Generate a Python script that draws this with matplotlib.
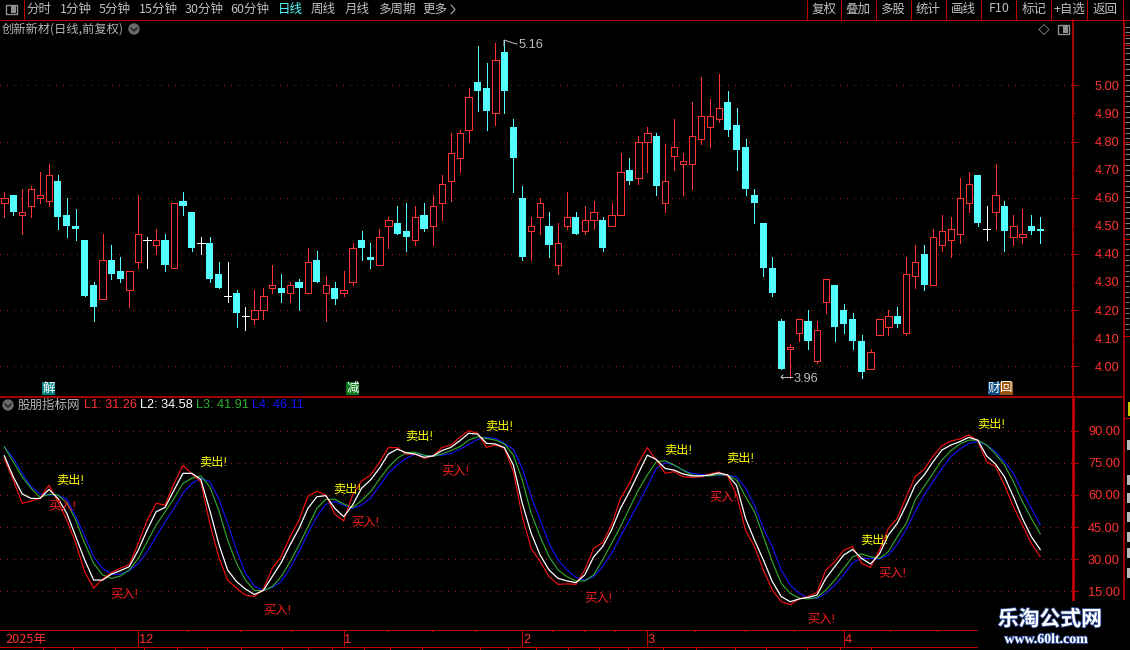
import numpy as np
import matplotlib
matplotlib.use('Agg')
import matplotlib.pyplot as plt
from matplotlib.patches import Rectangle, Circle
import matplotlib.patheffects as pe

plt.rcParams['font.family'] = ['Noto Sans CJK SC', 'DejaVu Sans']

# daily candles
highs = [4.62, 4.61, 4.63, 4.64, 4.69, 4.72, 4.68, 4.60, 4.56, 4.45,
         4.30, 4.47, 4.43, 4.39, 4.34, 4.61, 4.46, 4.49, 4.47, 4.58,
         4.62, 4.55, 4.46, 4.46, 4.37, 4.37, 4.27, 4.21, 4.27, 4.28,
         4.36, 4.33, 4.30, 4.31, 4.42, 4.41, 4.32, 4.30, 4.34, 4.44,
         4.48, 4.44, 4.49, 4.53, 4.57, 4.58, 4.57, 4.58, 4.61, 4.68,
         4.83, 4.84, 4.99, 5.14, 5.08, 5.15, 5.16, 4.88, 4.64, 4.53,
         4.60, 4.55, 4.51, 4.62, 4.55, 4.57, 4.59, 4.53, 4.58, 4.76,
         4.74, 4.82, 4.85, 4.83, 4.79, 4.88, 4.76, 4.94, 5.03, 4.95,
         5.04, 4.98, 4.92, 4.81, 4.63, 4.51, 4.39, 4.17, 4.08, 4.17,
         4.20, 4.16, 4.31, 4.29, 4.22, 4.19, 4.11, 4.06, 4.17, 4.20,
         4.21, 4.39, 4.43, 4.43, 4.49, 4.54, 4.53, 4.67, 4.69, 4.68,
         4.57, 4.72, 4.59, 4.54, 4.56, 4.54, 4.53]
lows = [4.53, 4.54, 4.47, 4.53, 4.58, 4.57, 4.49, 4.46, 4.45, 4.25,
        4.16, 4.24, 4.31, 4.30, 4.21, 4.35, 4.35, 4.40, 4.34, 4.35,
        4.54, 4.41, 4.40, 4.30, 4.28, 4.23, 4.14, 4.13, 4.15, 4.17,
        4.26, 4.23, 4.23, 4.20, 4.26, 4.30, 4.16, 4.22, 4.25, 4.29,
        4.38, 4.35, 4.36, 4.42, 4.47, 4.41, 4.43, 4.48, 4.43, 4.52,
        4.59, 4.69, 4.80, 4.91, 4.84, 4.86, 4.90, 4.62, 4.38, 4.38,
        4.47, 4.39, 4.33, 4.49, 4.47, 4.47, 4.49, 4.41, 4.50, 4.54,
        4.65, 4.65, 4.69, 4.61, 4.55, 4.70, 4.61, 4.63, 4.79, 4.78,
        4.87, 4.82, 4.70, 4.61, 4.51, 4.32, 4.25, 3.99, 3.96, 4.09,
        4.06, 4.01, 4.19, 4.09, 4.12, 4.06, 3.96, 3.99, 4.11, 4.11,
        4.14, 4.11, 4.28, 4.27, 4.29, 4.41, 4.39, 4.44, 4.55, 4.50,
        4.45, 4.49, 4.41, 4.43, 4.44, 4.47, 4.44]
opens = [4.58, 4.61, 4.54, 4.57, 4.60, 4.59, 4.66, 4.54, 4.50, 4.45,
         4.29, 4.24, 4.38, 4.34, 4.27, 4.37, 4.45, 4.43, 4.45, 4.35,
         4.59, 4.55, 4.44, 4.44, 4.33, 4.25, 4.26, 4.18, 4.17, 4.20,
         4.28, 4.28, 4.26, 4.30, 4.26, 4.38, 4.26, 4.28, 4.26, 4.30,
         4.45, 4.39, 4.36, 4.50, 4.51, 4.48, 4.45, 4.54, 4.50, 4.58,
         4.66, 4.74, 4.84, 5.01, 4.99, 4.90, 5.12, 4.85, 4.60, 4.48,
         4.53, 4.50, 4.36, 4.50, 4.53, 4.48, 4.52, 4.52, 4.50, 4.54,
         4.70, 4.67, 4.80, 4.82, 4.58, 4.75, 4.72, 4.72, 4.81, 4.85,
         4.88, 4.94, 4.86, 4.78, 4.61, 4.51, 4.35, 4.16, 4.06, 4.12,
         4.16, 4.02, 4.23, 4.29, 4.20, 4.17, 4.09, 3.99, 4.11, 4.14,
         4.18, 4.12, 4.32, 4.40, 4.29, 4.43, 4.45, 4.47, 4.58, 4.68,
         4.49, 4.55, 4.57, 4.46, 4.46, 4.50, 4.49]
closes = [4.60, 4.55, 4.55, 4.63, 4.61, 4.68, 4.53, 4.50, 4.49, 4.25,
          4.21, 4.38, 4.33, 4.31, 4.34, 4.47, 4.45, 4.45, 4.36, 4.58,
          4.57, 4.42, 4.44, 4.31, 4.28, 4.25, 4.19, 4.18, 4.20, 4.25,
          4.29, 4.26, 4.29, 4.28, 4.37, 4.30, 4.29, 4.24, 4.27, 4.42,
          4.42, 4.38, 4.46, 4.52, 4.47, 4.46, 4.53, 4.49, 4.57, 4.65,
          4.76, 4.83, 4.96, 4.98, 4.91, 5.09, 4.98, 4.74, 4.39, 4.50,
          4.58, 4.43, 4.44, 4.53, 4.47, 4.52, 4.55, 4.42, 4.54, 4.69,
          4.66, 4.80, 4.83, 4.64, 4.66, 4.78, 4.73, 4.82, 4.89, 4.89,
          4.92, 4.84, 4.77, 4.63, 4.58, 4.35, 4.26, 3.99, 4.07, 4.17,
          4.09, 4.13, 4.31, 4.14, 4.15, 4.09, 3.98, 4.05, 4.17, 4.18,
          4.15, 4.33, 4.37, 4.29, 4.46, 4.48, 4.49, 4.60, 4.65, 4.51,
          4.49, 4.61, 4.48, 4.50, 4.47, 4.48, 4.48]

# indicator lines
l1 = [76.9, 67.0, 56.1, 57.2, 58.4, 64.6, 56.9, 48.3, 37.4, 24.2,
      16.5, 20.8, 23.8, 25.8, 27.6, 37.4, 48.3, 56.1, 55.3, 65.4,
      73.8, 69.8, 66.2, 46.8, 31.2, 20.3, 16.5, 13.3, 12.6, 16.0,
      25.8, 31.2, 40.5, 48.3, 59.5, 61.7, 60.0, 51.1, 47.9, 60.0,
      66.5, 69.3, 75.1, 82.1, 82.1, 79.1, 79.1, 77.1, 78.2, 82.1,
      83.3, 86.9, 90.0, 88.8, 82.2, 83.3, 81.8, 70.9, 49.9, 35.1,
      28.9, 21.9, 18.3, 18.5, 18.3, 25.0, 35.1, 37.8, 46.0, 58.4,
      65.4, 74.8, 82.1, 76.3, 70.1, 70.9, 68.5, 68.2, 68.5, 69.8,
      70.7, 68.9, 60.0, 43.6, 35.9, 25.0, 15.7, 10.2, 8.8, 11.5,
      12.6, 14.6, 25.0, 28.9, 34.3, 35.9, 28.1, 26.2, 34.3, 44.4,
      49.1, 59.2, 68.5, 72.0, 78.2, 83.0, 85.2, 86.1, 88.0, 85.3,
      75.5, 73.2, 64.6, 54.5, 46.0, 37.4, 31.26]
l2 = [78.3, 68.5, 60.5, 58.4, 58.4, 62.6, 58.4, 51.4, 40.6, 29.7,
      20.3, 20.3, 23.1, 24.7, 26.6, 34.3, 43.7, 52.2, 54.2, 62.3,
      70.1, 70.1, 67.3, 53.0, 37.4, 25.0, 19.6, 16.1, 13.6, 15.4,
      21.9, 28.4, 36.7, 44.4, 53.8, 59.2, 59.7, 53.8, 49.9, 55.3,
      63.1, 67.0, 72.4, 79.1, 81.4, 79.7, 79.1, 77.6, 78.2, 80.7,
      82.2, 85.3, 88.8, 88.4, 84.1, 83.8, 82.1, 74.0, 56.1, 42.1,
      32.0, 25.0, 21.1, 19.9, 19.1, 22.7, 31.2, 35.9, 43.7, 53.8,
      61.5, 70.1, 78.6, 76.6, 72.4, 71.6, 69.8, 68.9, 68.9, 69.3,
      70.3, 69.3, 64.5, 49.1, 39.0, 29.7, 19.6, 12.6, 10.2, 11.5,
      12.2, 13.3, 21.1, 26.6, 32.0, 34.6, 30.4, 27.8, 32.5, 41.3,
      46.8, 55.3, 64.6, 69.3, 75.5, 81.0, 83.3, 84.9, 86.9, 85.6,
      78.2, 74.4, 68.5, 59.2, 49.1, 40.6, 34.58]
l3 = [82.5, 75.5, 68.5, 63.1, 58.9, 60.3, 60.0, 56.4, 48.3, 37.4,
      28.1, 22.7, 21.1, 22.2, 25.0, 30.4, 38.2, 46.0, 52.2, 58.4,
      65.4, 67.8, 68.9, 63.9, 53.0, 39.0, 28.1, 20.3, 15.4, 15.4,
      17.2, 21.9, 28.9, 36.7, 45.2, 53.8, 58.0, 58.0, 55.8, 54.2,
      57.4, 61.5, 67.3, 72.9, 77.1, 79.7, 80.0, 78.6, 78.0, 79.1,
      80.7, 82.5, 85.6, 87.2, 86.4, 85.6, 83.8, 78.6, 67.0, 51.4,
      40.6, 31.2, 25.0, 21.9, 19.9, 19.9, 22.7, 29.7, 37.4, 45.2,
      53.8, 62.3, 69.3, 75.5, 76.0, 74.0, 71.6, 69.3, 68.9, 68.9,
      69.5, 69.3, 67.0, 59.2, 52.2, 40.6, 28.9, 18.8, 14.1, 11.9,
      11.5, 12.2, 15.7, 20.3, 25.8, 31.2, 32.5, 31.2, 30.4, 33.6,
      40.6, 46.8, 57.7, 63.9, 70.1, 76.3, 80.7, 83.8, 85.6, 85.6,
      83.3, 79.1, 74.0, 66.2, 56.9, 49.1, 41.91]
l4 = [82.5, 77.1, 70.1, 63.9, 60.5, 60.0, 60.0, 58.0, 49.9, 40.9,
      31.2, 25.8, 23.1, 23.0, 24.7, 28.1, 33.6, 40.6, 47.5, 53.8,
      60.8, 65.4, 67.8, 66.2, 58.4, 46.8, 34.3, 23.4, 17.5, 15.4,
      16.9, 19.6, 25.8, 33.6, 42.1, 49.9, 55.6, 56.9, 55.3, 53.8,
      55.3, 58.4, 64.2, 70.1, 74.0, 77.1, 79.1, 78.6, 78.2, 78.6,
      79.4, 81.3, 83.6, 86.0, 86.9, 86.4, 84.1, 81.3, 72.4, 59.2,
      48.3, 37.4, 29.7, 25.0, 21.6, 20.3, 21.9, 26.6, 32.8, 40.6,
      48.3, 56.1, 63.9, 72.4, 75.1, 74.0, 71.6, 70.1, 69.6, 69.3,
      69.3, 69.2, 68.5, 63.1, 55.3, 44.4, 35.9, 25.0, 18.0, 14.1,
      12.1, 11.8, 14.1, 18.0, 22.7, 28.4, 30.4, 30.4, 30.1, 32.0,
      37.1, 44.0, 52.2, 60.0, 66.2, 72.4, 77.9, 81.4, 84.1, 84.9,
      83.3, 80.2, 75.5, 70.1, 61.5, 53.8, 46.11]

price_ticks = [4.0, 4.1, 4.2, 4.3, 4.4, 4.5, 4.6, 4.7, 4.8, 4.9, 5.0]
price_grid = [4.0, 4.2, 4.4, 4.6, 4.8, 5.0]
osc_ticks = [15, 30, 45, 60, 75, 90]
osc_minor = [7.5, 22.5, 37.5, 52.5, 67.5, 82.5, 97.5]
month_idx = [15, 38, 58, 72, 94]
month_labels = ['12', '1', '2', '3', '4']
minor_idx = [20.6, 26.4, 32.1, 42.9, 47.9, 52.8, 61.3, 64.9, 68.4, 77.3, 82.9, 88.4, 99.2, 104.4]

# signal texts, pixel centres
sell_pos = [(70, 480), (213, 462), (347, 489), (419, 436), (499, 426), (678, 450), (740, 458), (874, 540), (991, 424)]
buy_pos = [(62, 505), (124, 593), (277, 609), (365, 521), (455, 470), (598, 597), (723, 496), (821, 618), (892, 572)]

left_tabs = [('分时', 39), ('1分钟', 76), ('5分钟', 115), ('15分钟', 158), ('30分钟', 204), ('60分钟', 250),
             ('日线', 290), ('周线', 323), ('月线', 357), ('多周期', 397), ('更多', 435)]
right_tabs = [('复权', 824), ('叠加', 858), ('多股', 893), ('统计', 928), ('画线', 963),
              ('F10', 999), ('标记', 1034), ('+自选', 1069), ('返回', 1105)]
tab_seps = [807, 841, 876, 911, 946, 981, 1016, 1051, 1087, 1123]
bottom_marks = [43, 73, 115, 144, 177, 207, 241, 282, 308, 332, 364, 390, 422, 480,
                508, 536, 568, 599, 628, 663, 696, 735, 766, 807, 840, 871]

W, H = 1130, 650
RED = '#ff3232'
LINE = '#c00000'
CYAN = '#54ffff'
DOT = '#b01818'
GRAY = '#c0c0c0'
GREEN = '#2fb02f'
X0, DX = 4.33, 8.93
THIN = 0.72


def px_axes(left, top, right, bottom):
    ax = fig.add_axes([left / W, 1 - bottom / H, (right - left) / W, (bottom - top) / H])
    ax.set_facecolor('black')
    ax.set_xlim((left - X0) / DX, (right - X0) / DX)
    return ax


def style_right(ax, labelsize, pad):
    for s in ['left', 'top', 'bottom']:
        ax.spines[s].set_visible(False)
    ax.set_xticks([])
    ax.yaxis.tick_right()
    ax.tick_params(axis='y', which='major', colors=LINE, labelcolor=RED, labelsize=labelsize,
                   length=3.6, width=THIN, pad=pad, labelfontfamily='Liberation Sans')
    ax.tick_params(axis='y', which='minor', colors=LINE, length=1.6, width=THIN)


fig = plt.figure(figsize=(W / 100, H / 100), dpi=100, facecolor='black')

# candles
ax = px_axes(0, 20, 1072.5, 396.5)
ax.set_ylim(4 - 30.2 / 281, 4 + 346.3 / 281)
style_right(ax, 9.2, 12.5)
ax.spines['right'].set_color(LINE)
ax.spines['right'].set_linewidth(1.2)
ax.set_yticks(price_ticks)
ax.set_yticklabels(['%.2f' % p for p in price_ticks])
for p, t in zip(price_ticks, ax.yaxis.get_major_ticks()):
    if round(p * 10) % 2:
        t.tick2line.set_markersize(1.6)
ax.hlines(price_grid, ax.get_xlim()[0], ax.get_xlim()[1], colors=DOT, linestyles=(0, (1, 6)), lw=THIN,
          antialiased=False)

xs = np.arange(len(opens))
o = np.array(opens)
c = np.array(closes)
h = np.array(highs)
l = np.array(lows)
up = c > o
down = c < o
flat = c == o
ax.vlines(xs[up], l[up], h[up], colors=RED, lw=THIN, zorder=2, antialiased=False)
ax.vlines(xs[down], l[down], h[down], colors=CYAN, lw=THIN, zorder=2, antialiased=False)
ax.vlines(xs[flat], l[flat], h[flat], colors='white', lw=THIN, zorder=2, antialiased=False)
ax.hlines(c[flat], xs[flat] - 0.42, xs[flat] + 0.42, colors='white', lw=THIN, zorder=2, antialiased=False)
ax.bar(xs[up], (c - o)[up], bottom=o[up], width=0.72, facecolor='black', edgecolor=RED, lw=THIN,
       zorder=3, antialiased=False)
ax.bar(xs[down], (o - c)[down], bottom=c[down], width=0.8, facecolor=CYAN, edgecolor='none', zorder=3,
       antialiased=False)

# indicator
ax2 = px_axes(0, 397, 1072.5, 630)
ax2.set_ylim(90 - 199.3 / 2.143, 90 + 33.7 / 2.143)
style_right(ax2, 9.2, 7.5)
ax2.spines['right'].set_color(LINE)
ax2.spines['right'].set_linewidth(2)
ax2.set_yticks(osc_ticks)
ax2.set_yticklabels(['%.2f' % v for v in osc_ticks])
ax2.set_yticks(osc_minor, minor=True)
ax2.hlines(osc_ticks, ax2.get_xlim()[0], ax2.get_xlim()[1], colors=DOT, linestyles=(0, (1, 6)), lw=THIN,
           antialiased=False)
ax2.plot(xs, l4, color='#1414ff', lw=0.8, zorder=3)
ax2.plot(xs, l3, color=GREEN, lw=0.8, zorder=4)
ax2.plot(xs, l1, color='#ff1010', lw=0.8, zorder=5)
ax2.plot(xs, l2, color='white', lw=0.9, zorder=6)

# date strip
ax3 = px_axes(0, 630, 1072.5, 646.5)
ax3.set_ylim(0, 1)
ax3.set_yticks([])
for s in ['left', 'right']:
    ax3.spines[s].set_visible(False)
for s in ['top', 'bottom']:
    ax3.spines[s].set_color(LINE)
    ax3.spines[s].set_linewidth(THIN)
ax3.xaxis.tick_top()
ax3.set_xticks(month_idx)
ax3.set_xticklabels([])
ax3.set_xticks(minor_idx, minor=True)
ax3.tick_params(axis='x', which='major', direction='in', length=11.8, width=THIN, colors=LINE)
ax3.tick_params(axis='x', which='minor', direction='in', length=1.6, width=THIN, colors=LINE)
ax3.text(0.6 - X0 / DX, 0.42, '2025年', color=RED, fontsize=9.2, va='center', ha='left')
for i, lab in zip(month_idx, month_labels):
    ax3.text(i + 0.08, 0.42, lab, color=RED, fontsize=9.2, va='center', ha='left', family='Liberation Sans')

# chrome drawn in pixel coordinates on top
ov = fig.add_axes([0, 0, 1, 1], zorder=10)
ov.set_xlim(0, W)
ov.set_ylim(H, 0)
ov.axis('off')
ov.patch.set_alpha(0)

ov.hlines(19.5, 0, W, colors=LINE, lw=THIN)
ov.vlines(tab_seps, 0, 19.5, colors=LINE, lw=THIN)
ov.vlines(23.5, 0, 19.5, colors=LINE, lw=THIN)
ov.hlines(396.5, 0, 1123, colors=LINE, lw=1.2)
ov.vlines(1123.5, 19.5, 600, colors=LINE, lw=1.2)
for label, cx in left_tabs + right_tabs:
    col = '#54ffff' if label == '日线' else GRAY
    ov.text(cx, 9, label, color=col, fontsize=9, ha='center', va='center')
ov.plot([451, 455, 451], [5, 9.5, 14], color=GRAY, lw=0.7)


def toggle_icon(cx, cy):
    ov.add_patch(Rectangle((cx - 5.5, cy - 4.5), 11, 9, fc='none', ec='#909090', lw=1.0))
    ov.add_patch(Rectangle((cx, cy - 3.5), 4.5, 7, fc='#909090', ec='none'))


def round_icon(cx, cy):
    ov.add_patch(Circle((cx, cy), 5.7, fc='#6a6a6a', ec='none'))
    ov.plot([cx - 3, cx, cx + 3], [cy - 1, cy + 2, cy - 1], color='#1a1a1a', lw=1.0)


toggle_icon(11, 9)
toggle_icon(1063, 29.5)
ov.plot([1039, 1044, 1049, 1044, 1039], [29.5, 24.5, 29.5, 34.5, 29.5], color='#707070', lw=0.7)
ov.text(2, 29, '创新新材(日线,前复权)', color='#b4b4b4', fontsize=8.8, ha='left', va='center')
round_icon(134, 29)
round_icon(8, 405)

# legend row
ov.text(18, 405, '股朋指标网', color='#b4b4b4', fontsize=9, ha='left', va='center')
for txt, col, tx in [('L1: %.2f' % l1[-1], RED, 84), ('L2: %.2f' % l2[-1], 'white', 140),
                     ('L3: %.2f' % l3[-1], GREEN, 196), ('L4: %.2f' % l4[-1], '#1414ff', 252)]:
    ov.text(tx, 405, txt, color=col, fontsize=9.2, ha='left', va='center', family='Liberation Sans')

# high/low flags
ov.plot([504, 504, 510, 513, 517], [46, 40, 42, 43, 44], color=GRAY, lw=0.7)
ov.text(519, 45.5, '%.2f' % max(highs), color=GRAY, fontsize=9.2, ha='left', va='center', family='Liberation Sans')
ov.plot([783, 781, 783], [375, 377, 379], color=GRAY, lw=0.7)
ov.plot([781, 792], [377, 377], color=GRAY, lw=0.7)
ov.text(794, 378.5, '%.2f' % min(lows), color=GRAY, fontsize=9.2, ha='left', va='center', family='Liberation Sans')

# event badges
for cx, txt, bg in [(48.5, '解', '#007f7f'), (352.5, '减', '#0a7a1a'), (994, '财', '#0a4a80'), (1006.5, '回', '#9a5510')]:
    ov.add_patch(Rectangle((cx - 6.5, 382), 13, 13, fc=bg, ec='none'))
    ov.text(cx, 388, txt, color='white', fontsize=9, ha='center', va='center')

# signals
for (tx, ty) in sell_pos:
    ov.text(tx, ty + 1, '卖出!', color='#ffff00', fontsize=8.8, ha='center', va='center',
            family=['Liberation Sans', 'Noto Sans CJK SC'])
for (tx, ty) in buy_pos:
    ov.text(tx, ty + 1, '买入!', color='#ff2020', fontsize=8.8, ha='center', va='center',
            family=['Liberation Sans', 'Noto Sans CJK SC'])

# bottom row ticks
ov.vlines(bottom_marks, 646.5, H, colors=LINE, lw=THIN)

# clipped side panel at the right edge
ov.hlines([35, 45, 142, 239, 336, 418], 1123, W, colors=LINE, lw=THIN)
ov.hlines(np.arange(27, 238, 5.3), 1125, 1130, colors='#a0a0a0', lw=0.6)
ov.hlines(np.arange(244, 332, 5.3), 1125, 1129, colors='#909090', lw=0.6)
ov.add_patch(Rectangle((1128, 402), 2, 14, fc='#c8c800', ec='none'))
for by in [445, 480, 498, 517, 537, 553, 573]:
    ov.add_patch(Rectangle((1127, by - 5), 3, 10, fc='#b8b8b8', ec='none'))

# watermark
ov.add_patch(Rectangle((978, 600.5), W - 978, H - 600.5, fc='black', ec='none'))
glow = [pe.withStroke(linewidth=1.2, foreground='#2a4a9a')]
ov.text(1050, 619, '乐淘公式网', color='white', fontsize=15, fontweight='bold', ha='center', va='center', path_effects=glow)
ov.text(1046, 639.5, 'www.60lt.com', color='white', fontsize=10, fontweight='bold', ha='center', va='center',
        family='Liberation Serif', path_effects=glow)

fig.savefig('out.png', dpi=100, facecolor='black')
